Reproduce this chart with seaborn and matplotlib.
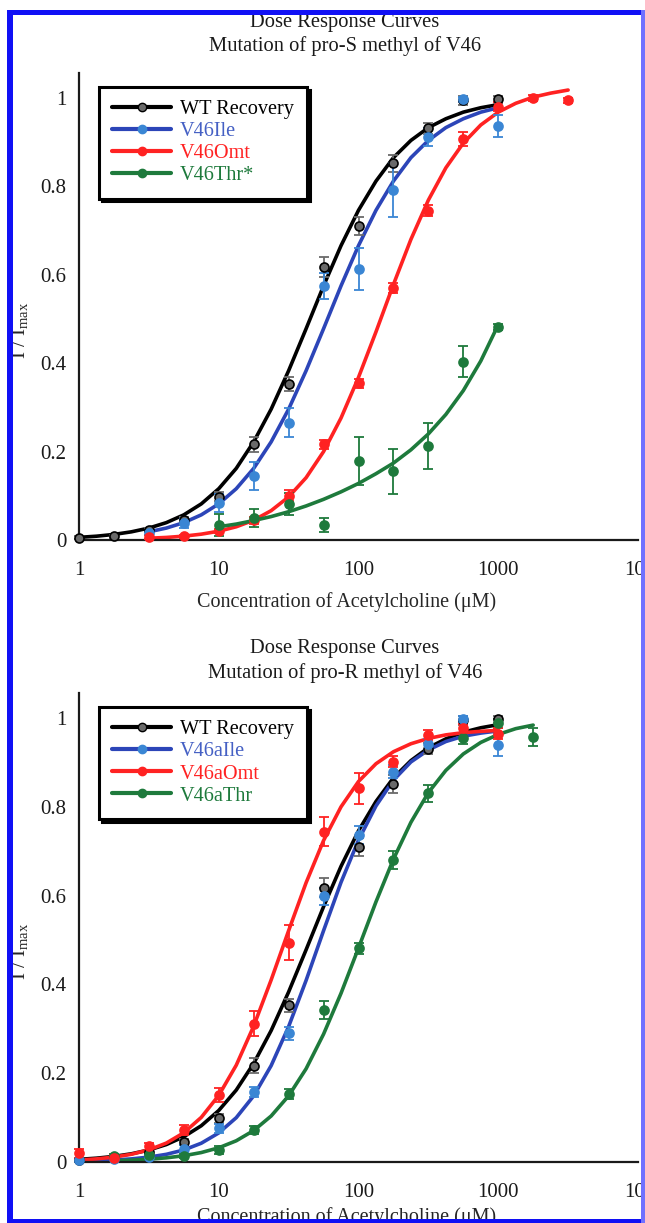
"""Dose response curves for pro-S / pro-R methyl mutations of V46."""

import matplotlib
matplotlib.use("Agg")
import matplotlib.pyplot as plt
import seaborn as sns
from matplotlib.lines import Line2D
from matplotlib.patches import Rectangle
from matplotlib.ticker import NullLocator
from matplotlib.transforms import ScaledTranslation

# measured concentrations (uM), quarter-decade steps
CONC = [1, 1.78, 3.16, 5.62, 10, 17.8, 31.6, 56.2, 100, 178, 316, 562, 1000, 1780, 3160]
# x positions where the fitted curves were read, eighth-decade steps
FIT_X = [1, 1.334, 1.778, 2.371, 3.162, 4.217, 5.623, 7.499, 10, 13.34, 17.78, 23.71,
         31.62, 42.17, 56.23, 74.99, 100, 133.4, 177.8, 237.1, 316.2, 421.7, 562.3,
         749.9, 1000, 1334, 1778, 2371, 3162]

# WT recovery (shared by both panels)
wt_x = CONC[:13]
wt_y = [0.005, 0.008, 0.023, 0.045, 0.098, 0.217, 0.353, 0.618, 0.71, 0.852, 0.931, 0.995, 0.997]
wt_err = [0.003, 0.003, 0.005, 0.006, 0.01, 0.017, 0.015, 0.022, 0.02, 0.02, 0.012, 0.01, 0.008]
wt_fit_x = FIT_X[:25]
wt_fit_y = [0.006, 0.0086, 0.0126, 0.0185, 0.027, 0.0393, 0.0569, 0.0817, 0.116, 0.162,
            0.222, 0.296, 0.383, 0.478, 0.575, 0.666, 0.746, 0.812, 0.865, 0.904, 0.933,
            0.953, 0.968, 0.978, 0.985]

# top panel: pro-S
ile_x = CONC[2:13]
ile_y = [0.015, 0.038, 0.083, 0.145, 0.265, 0.575, 0.613, 0.792, 0.912, 0.997, 0.937]
ile_err = [0.004, 0.01, 0.02, 0.032, 0.033, 0.03, 0.047, 0.062, 0.02, 0.006, 0.025]
ile_fit_x = FIT_X[4:25]
ile_fit_y = [0.0185, 0.027, 0.0393, 0.0569, 0.0817, 0.116, 0.162, 0.222, 0.296, 0.383,
             0.478, 0.575, 0.666, 0.746, 0.812, 0.865, 0.904, 0.933, 0.953, 0.968, 0.978]

omt_x = CONC[2:15]
omt_y = [0.007, 0.008, 0.02, 0.045, 0.10, 0.217, 0.355, 0.57, 0.745, 0.907, 0.98, 1.0, 0.995]
omt_err = [0.004, 0.004, 0.005, 0.008, 0.012, 0.01, 0.01, 0.012, 0.012, 0.015, 0.01, 0.006, 0.006]
omt_fit_x = FIT_X[4:29]
omt_fit_y = [0.004, 0.0058, 0.0087, 0.0132, 0.0199, 0.0299, 0.0447, 0.0664, 0.0975, 0.141,
             0.200, 0.276, 0.368, 0.471, 0.578, 0.680, 0.769, 0.842, 0.898, 0.939, 0.968,
             0.988, 1.002, 1.011, 1.018]

thr_x = CONC[4:13]
thr_y = [0.034, 0.05, 0.081, 0.034, 0.179, 0.155, 0.213, 0.403, 0.482]
thr_err = [0.025, 0.02, 0.025, 0.015, 0.055, 0.05, 0.052, 0.035, 0.006]
thr_fit_x = FIT_X[8:25]
thr_fit_y = [0.030, 0.036, 0.044, 0.053, 0.064, 0.077, 0.092, 0.109, 0.128, 0.150, 0.174,
             0.204, 0.240, 0.284, 0.338, 0.405, 0.487]

# bottom panel: pro-R
aile_x = CONC[:13]
aile_y = [0.005, 0.007, 0.012, 0.03, 0.076, 0.158, 0.29, 0.598, 0.736, 0.879, 0.941, 0.998, 0.939]
aile_err = [0.004, 0.003, 0.004, 0.008, 0.01, 0.012, 0.015, 0.02, 0.02, 0.015, 0.012, 0.006, 0.025]
aile_fit_x = FIT_X[:25]
aile_fit_y = [0.002, 0.0028, 0.0044, 0.007, 0.011, 0.0173, 0.0271, 0.0423, 0.0655, 0.0998,
              0.149, 0.217, 0.305, 0.409, 0.521, 0.630, 0.725, 0.802, 0.860, 0.901, 0.928,
              0.947, 0.959, 0.966, 0.971]

aomt_x = CONC[:13]
aomt_y = [0.02, 0.01, 0.035, 0.072, 0.151, 0.311, 0.494, 0.744, 0.842, 0.902, 0.962, 0.977, 0.965]
aomt_err = [0.01, 0.005, 0.008, 0.012, 0.015, 0.028, 0.04, 0.032, 0.035, 0.012, 0.012, 0.01, 0.012]
aomt_fit_x = FIT_X[:25]
aomt_fit_y = [0.0044, 0.007, 0.0111, 0.0174, 0.0273, 0.0426, 0.0659, 0.1005, 0.150, 0.218,
              0.306, 0.410, 0.521, 0.629, 0.724, 0.800, 0.857, 0.897, 0.924, 0.942, 0.954,
              0.962, 0.967, 0.970, 0.972]

athr_x = CONC[1:14]
athr_y = [0.013, 0.015, 0.013, 0.027, 0.072, 0.153, 0.342, 0.481, 0.68, 0.83, 0.954, 0.988, 0.958]
athr_err = [0.004, 0.005, 0.005, 0.008, 0.01, 0.012, 0.02, 0.012, 0.02, 0.02, 0.012, 0.01, 0.02]
athr_fit_x = FIT_X[2:27]
athr_fit_y = [0.0027, 0.0041, 0.0062, 0.0094, 0.0141, 0.0213, 0.032, 0.0478, 0.0708, 0.1036,
              0.149, 0.210, 0.288, 0.380, 0.482, 0.586, 0.682, 0.765, 0.832, 0.882, 0.919,
              0.945, 0.963, 0.976, 0.984]

X_TICKS = [1, 10, 100, 1000, 10000]
X_TICK_LABELS = ["1", "10", "100", "1000", "10000"]
Y_TICKS = [0, 0.2, 0.4, 0.6, 0.8, 1.0]
Y_TICK_LABELS = ["0", "0.2", "0.4", "0.6", "0.8", "1"]

BLACK = "#000000"
WT_FACE = "#6a6a6a"
BLUE_LINE = "#2c45b8"
BLUE_PT = "#3a86d4"
BLUE_TXT = "#4560c4"
RED = "#ff2222"
GREEN = "#1e7a3c"
FRAME_BLUE = "#1010f5"

sns.set_theme(style="white")
plt.rcParams["font.family"] = ["Liberation Serif", "DejaVu Serif"]
plt.rcParams["mathtext.fontset"] = "custom"
plt.rcParams["mathtext.rm"] = "Liberation Serif"

W, H = 645, 1223


def draw_series(ax, x, y, err, fit_x, fit_y, line_color, pt_color, edge=None):
    sns.lineplot(x=fit_x, y=fit_y, ax=ax, color=line_color, linewidth=2.6,
                 sort=False, zorder=2)
    ax.errorbar(x, y, yerr=err, fmt="none", ecolor=pt_color, elinewidth=1.3,
                capsize=3.5, capthick=1.3, zorder=3, clip_on=False)
    sns.scatterplot(x=x, y=y, ax=ax, color=pt_color, s=42,
                    edgecolor=edge if edge else pt_color, linewidth=1.2,
                    zorder=4, clip_on=False)


def style_axes(ax, ytop):
    ax.set_xscale("log")
    ax.set_xlim(1, 10000)
    ax.set_ylim(0, ytop)
    ax.set_xticks(X_TICKS, X_TICK_LABELS)
    ax.set_yticks(Y_TICKS, Y_TICK_LABELS)
    ax.xaxis.set_minor_locator(NullLocator())
    for side in ("top", "right"):
        ax.spines[side].set_visible(False)
    for side in ("left", "bottom"):
        ax.spines[side].set_linewidth(1.6)
        ax.spines[side].set_color("#1a1a1a")
    ax.tick_params(axis="both", direction="in", length=8, width=1.5,
                   labelsize=15, colors="#1a1a1a")
    ax.tick_params(axis="x", pad=15)
    ax.tick_params(axis="y", pad=9)
    # the last decade label sits a little right of its tick in the original
    last = ax.get_xticklabels()[-1]
    last.set_transform(last.get_transform()
                       + ScaledTranslation(12 / 100, 0, ax.figure.dpi_scale_trans))
    ax.set_ylabel(r"I / I$_\mathregular{max}$", fontsize=15)
    ax.yaxis.set_label_coords(-0.085, 0.45)
    ax.grid(False)


def add_legend(ax, labels, line_colors, pt_colors, text_colors):
    handles = []
    for i, (lc, pc) in enumerate(zip(line_colors, pt_colors)):
        handles.append(Line2D([], [], color=lc, linewidth=3, marker="o", markersize=6,
                              markerfacecolor=pc,
                              markeredgecolor=BLACK if i == 0 else pc))
    leg = ax.legend(handles, labels, loc="upper left", bbox_to_anchor=(0.036, 0.970),
                    frameon=True, fancybox=False, edgecolor=BLACK, framealpha=1,
                    shadow={"color": BLACK, "alpha": 1}, fontsize=14.6,
                    handlelength=2.9, handletextpad=0.45, labelspacing=0.14,
                    borderpad=0.65, borderaxespad=0)
    leg.get_frame().set_linewidth(2.2)
    for txt, c in zip(leg.get_texts(), text_colors):
        txt.set_color(c)


fig = plt.figure(figsize=(W / 100, H / 100), dpi=100)
fig.patch.set_facecolor("white")

ax_top = fig.add_axes([79 / W, 1 - 540 / H, 559 / W, 467 / H])
ax_bot = fig.add_axes([79 / W, 1 - 1162 / H, 559 / W, 469 / H])

# top panel
draw_series(ax_top, wt_x, wt_y, wt_err, wt_fit_x, wt_fit_y, BLACK, WT_FACE, edge=BLACK)
draw_series(ax_top, ile_x, ile_y, ile_err, ile_fit_x, ile_fit_y, BLUE_LINE, BLUE_PT)
draw_series(ax_top, omt_x, omt_y, omt_err, omt_fit_x, omt_fit_y, RED, RED)
draw_series(ax_top, thr_x, thr_y, thr_err, thr_fit_x, thr_fit_y, GREEN, GREEN)
style_axes(ax_top, 467 / 442)
ax_top.set_xlabel("Concentration of Acetylcholine (\u03bcM)", fontsize=14.5)
ax_top.xaxis.set_label_coords(0.479, -0.111)
add_legend(ax_top, ["WT Recovery", "V46Ile", "V46Omt", "V46Thr*"],
           [BLACK, BLUE_LINE, RED, GREEN], [WT_FACE, BLUE_PT, RED, GREEN],
           [BLACK, BLUE_TXT, RED, GREEN])

# bottom panel
draw_series(ax_bot, wt_x, wt_y, wt_err, wt_fit_x, wt_fit_y, BLACK, WT_FACE, edge=BLACK)
draw_series(ax_bot, aile_x, aile_y, aile_err, aile_fit_x, aile_fit_y, BLUE_LINE, BLUE_PT)
draw_series(ax_bot, athr_x, athr_y, athr_err, athr_fit_x, athr_fit_y, GREEN, GREEN)
draw_series(ax_bot, aomt_x, aomt_y, aomt_err, aomt_fit_x, aomt_fit_y, RED, RED)
style_axes(ax_bot, 469 / 444)
ax_bot.set_xlabel("Concentration of Acetylcholine (\u03bcM)", fontsize=14.5)
ax_bot.xaxis.set_label_coords(0.479, -0.096)
add_legend(ax_bot, ["WT Recovery", "V46aIle", "V46aOmt", "V46aThr"],
           [BLACK, BLUE_LINE, RED, GREEN], [WT_FACE, BLUE_PT, RED, GREEN],
           [BLACK, BLUE_TXT, RED, GREEN])

# titles
for y_px, txt in [(22, "Dose Response Curves"), (46, "Mutation of pro-S methyl of V46"),
                  (649, "Dose Response Curves"), (673, "Mutation of pro-R methyl of V46")]:
    fig.text(345 / W, 1 - y_px / H, txt, ha="center", va="center", fontsize=14.8,
             color="#1a1a1a")

# blue frame around the figure
for (x0, y0, x1, y1, c) in [(7, 10, 13, 1223, FRAME_BLUE), (7, 10, 645, 15, FRAME_BLUE),
                            (7, 1219, 645, 1223, FRAME_BLUE), (641, 10, 645, 1223, "#7070ff")]:
    fig.add_artist(Rectangle((x0 / W, 1 - y1 / H), (x1 - x0) / W, (y1 - y0) / H,
                             transform=fig.transFigure, facecolor=c, edgecolor="none",
                             zorder=10))

fig.savefig("out.png", dpi=100)
plt.close(fig)
